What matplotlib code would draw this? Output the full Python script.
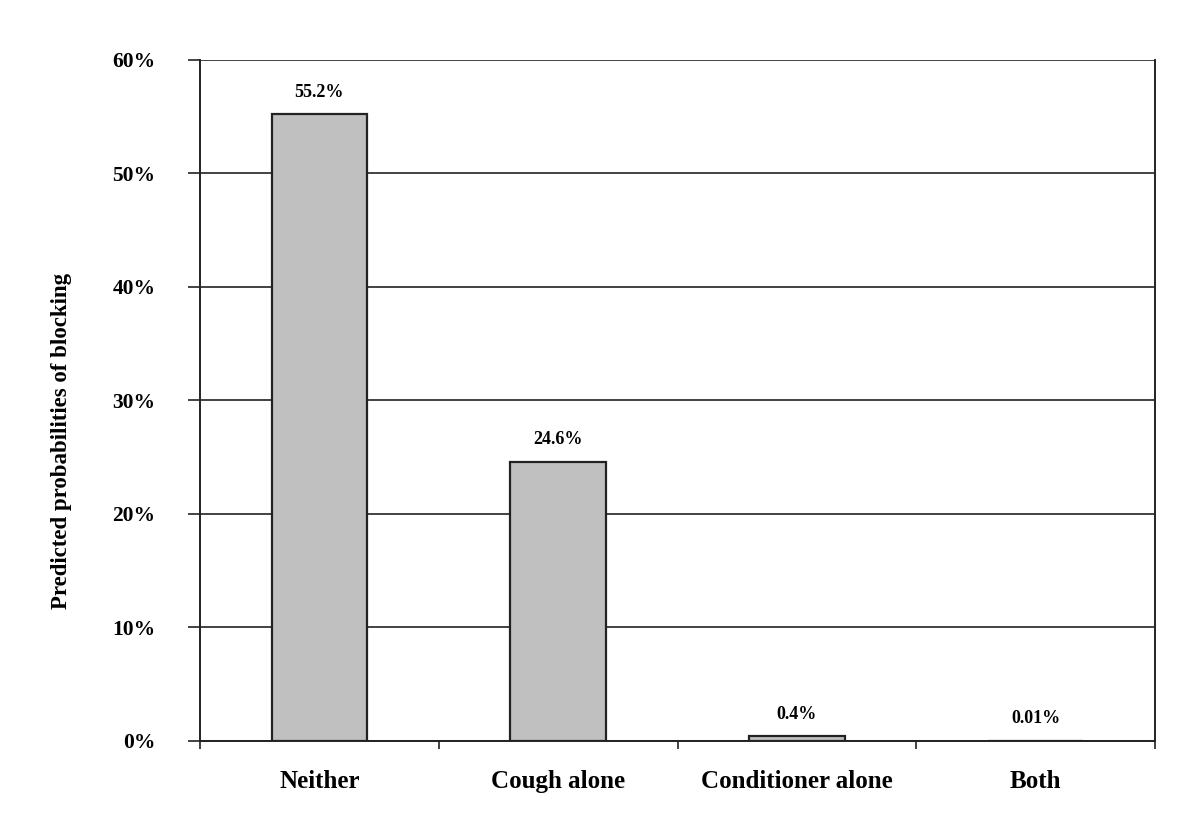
import matplotlib
matplotlib.use("Agg")
import matplotlib.pyplot as plt
import numpy as np

# data
categories = ['Neither', 'Cough alone', 'Conditioner alone', 'Both']
probabilities = [55.2, 24.6, 0.4, 0.01]
value_labels = ['55.2%', '24.6%', '0.4%', '0.01%']
y_ticks = [0, 10, 20, 30, 40, 50, 60]

plt.rcParams['font.family'] = ['Liberation Serif', 'DejaVu Serif']
plt.rcParams['font.weight'] = 'bold'

fig = plt.figure(figsize=(12, 8.4), dpi=100)
ax = fig.add_axes([0.1667, 0.1179, 0.7958, 0.8107])

x = np.arange(len(categories))
ax.bar(x, probabilities, width=0.4, color='#c0c0c0', edgecolor='#222222',
       linewidth=1.6, zorder=3)

for xi, v, lab in zip(x, probabilities, value_labels):
    ax.annotate(lab, (xi, v), xytext=(0, 10), textcoords='offset points',
                ha='center', va='bottom', fontsize=13, fontweight='bold')

ax.set_xlim(-0.5, 3.5)
ax.set_ylim(0, 60)
ax.set_yticks(y_ticks)
ax.set_yticklabels([f'{t}%' for t in y_ticks], fontsize=15.5, fontweight='bold')
ax.yaxis.grid(True, color='#222222', linewidth=1.2, zorder=0)
ax.tick_params(axis='y', length=9, width=1.2, color='#222222', pad=23)

ax.set_xticks(x)
ax.set_xticklabels(categories, fontsize=18, fontweight='bold')
ax.set_xticks(np.arange(-0.5, 4.0, 1.0), minor=True)
ax.tick_params(axis='x', which='major', length=0, pad=21)
ax.tick_params(axis='x', which='minor', length=6, width=1.2, color='#222222')

ax.set_ylabel('Predicted probabilities of blocking', fontsize=16.5,
              fontweight='bold')
ax.yaxis.set_label_coords(-0.134, 0.44)

for side in ['left', 'bottom', 'right']:
    ax.spines[side].set_color('#222222')
    ax.spines[side].set_linewidth(1.4)
ax.spines['top'].set_visible(False)

fig.savefig('out.png', dpi=100)
